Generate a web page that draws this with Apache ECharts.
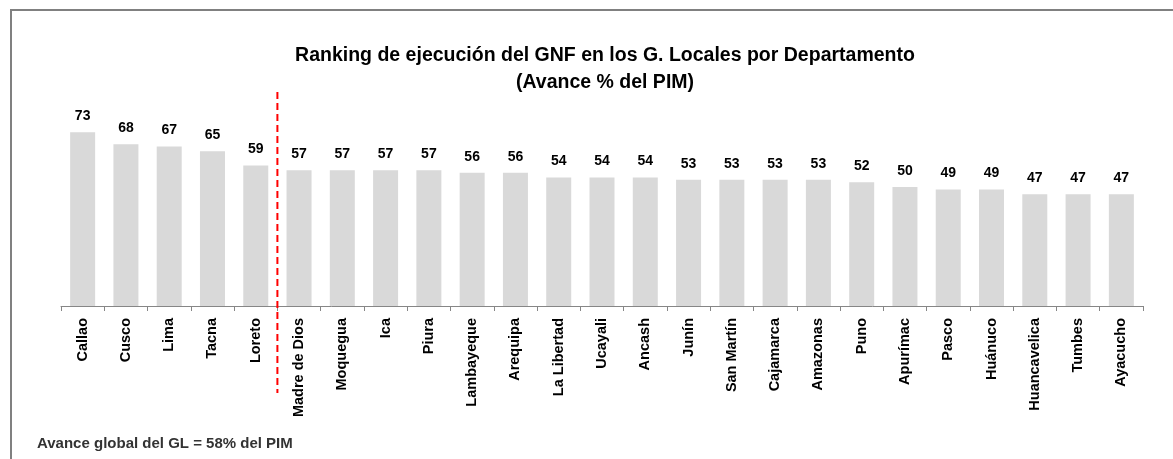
<!DOCTYPE html>
<html>
<head>
<meta charset="utf-8">
<script src="https://cdn.jsdelivr.net/npm/echarts@6/dist/echarts.min.js"></script>
<style>
  html, body { margin: 0; padding: 0; background: #fff; }
  #main { width: 1173px; height: 459px; }
</style>
</head>
<body>
<div id="main"></div>
<script>
const departamentos = [
  'Callao', 'Cusco', 'Lima', 'Tacna', 'Loreto', 'Madre de Dios', 'Moquegua', 'Ica',
  'Piura', 'Lambayeque', 'Arequipa', 'La Libertad', 'Ucayali', 'Ancash', 'Junín',
  'San Martín', 'Cajamarca', 'Amazonas', 'Puno', 'Apurímac', 'Pasco', 'Huánuco',
  'Huancavelica', 'Tumbes', 'Ayacucho',
];
const avance = [73, 68, 67, 65, 59, 57, 57, 57, 57, 56, 56, 54, 54, 54, 53, 53, 53, 53, 52, 50, 49, 49, 47, 47, 47];
const separadorDespues = 'Loreto';

const font = 'Liberation Sans';
const chart = echarts.init(document.getElementById('main'));

chart.setOption({
  animation: false,
  textStyle: { fontFamily: font },
  title: {
    text: 'Ranking de ejecución del GNF en los G. Locales por Departamento\n(Avance % del PIM)',
    left: 600,
    top: 37,
    textAlign: 'center',
    textStyle: { fontSize: 19.5, fontWeight: 'bold', color: '#000', lineHeight: 27, fontFamily: font },
  },
  grid: { left: 61, right: 30, top: 68, bottom: 153, containLabel: false },
  xAxis: {
    type: 'category',
    data: departamentos,
    axisLine: { lineStyle: { color: '#868686', width: 1 } },
    axisTick: { show: true, length: 5, lineStyle: { color: '#868686' } },
    axisLabel: {
      rotate: 90,
      interval: 0,
      margin: 12,
      fontSize: 14.5,
      fontWeight: 'bold',
      color: '#000',
      fontFamily: font,
    },
  },
  yAxis: { type: 'value', min: 0, max: 100, show: false, splitLine: { show: false } },
  series: [{
    type: 'bar',
    data: avance,
    barWidth: 25,
    itemStyle: { color: '#d9d9d9' },
    label: {
      show: true,
      position: 'top',
      distance: 9,
      fontSize: 14,
      fontWeight: 'bold',
      color: '#000',
      fontFamily: font,
    },
  }],
});

const idx = departamentos.indexOf(separadorDespues);
const x0 = chart.convertToPixel({ xAxisIndex: 0 }, idx);
const x1 = chart.convertToPixel({ xAxisIndex: 0 }, idx + 1);
const xSep = (x0 + x1) / 2;

chart.setOption({
  graphic: [
    {
      type: 'rect',
      shape: { x: 11, y: 10, width: 1300, height: 600 },
      style: { fill: 'none', stroke: '#808080', lineWidth: 2 },
      silent: true,
    },
    {
      type: 'line',
      shape: { x1: xSep, y1: 92, x2: xSep, y2: 393 },
      style: { stroke: '#ff0000', lineWidth: 2, lineDash: [7, 4] },
      z: 10,
    },
    {
      type: 'text',
      left: 37,
      top: 436,
      style: {
        text: 'Avance global del GL = 58% del PIM',
        font: 'bold 15px "Liberation Sans"',
        fill: '#333',
      },
    },
  ],
});
</script>
</body>
</html>
